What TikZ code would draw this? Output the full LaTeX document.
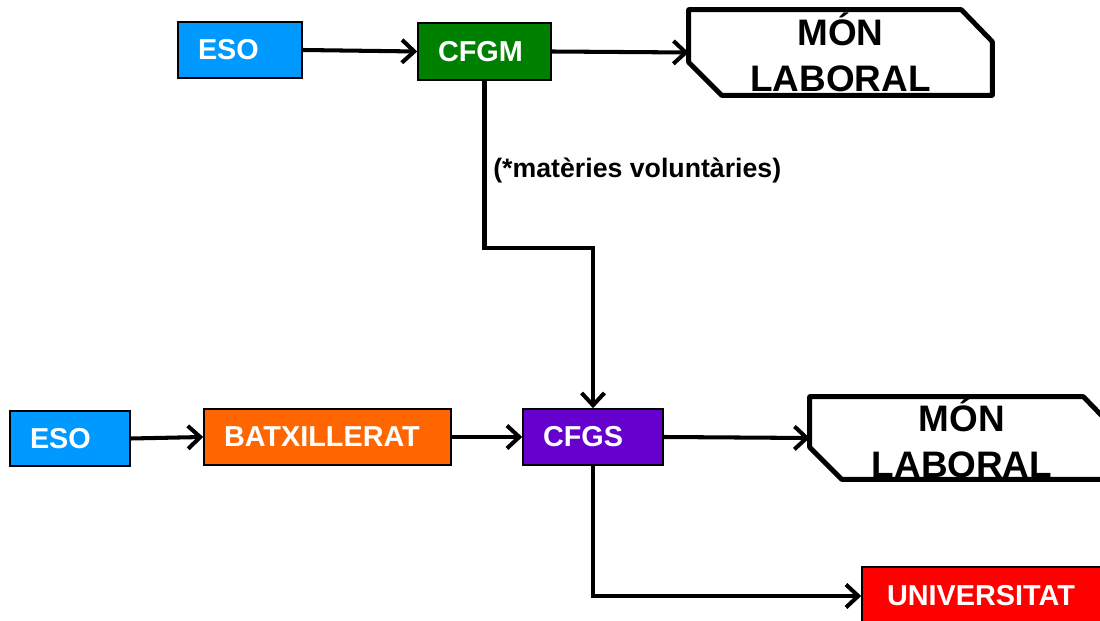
\documentclass[tikz,border=0pt]{standalone}
\usepackage{fontspec}
\setmainfont{Liberation Sans}
\usetikzlibrary{arrows.meta}

\definecolor{esoblue}{HTML}{0099FF}
\definecolor{cfgmgreen}{HTML}{008000}
\definecolor{batxorange}{HTML}{FF6600}
\definecolor{cfgspurple}{HTML}{6600CC}
\definecolor{univred}{HTML}{FF0000}

\begin{document}
\begin{tikzpicture}[x=0.02cm, y=-0.02cm,
  box/.style={draw=black, line width=0.9pt, text=white, inner xsep=0.4cm, inner ysep=0pt,
    align=left, minimum height=1.12cm, font=\bfseries\fontsize{16.4}{19}\selectfont},
  laboral/.style={inner sep=0pt, align=center, minimum width=6.06cm,
    font=\bfseries\fontsize{21}{26}\selectfont},
  rim/.style={line width=2.8pt, line join=round},
  link/.style={line width=2.3pt, -{Straight Barb[length=7pt, width=13pt, line width=2.3pt]}}]
% Set the page to the size of the picture
\clip (0,0) rectangle (1100,621);

% Top row: ESO, CFGM, mon laboral
\node[box, fill=esoblue, text width=1.68cm] (eso1) at (240,50) {ESO};
\node[box, fill=cfgmgreen, text width=1.86cm, minimum height=1.14cm] (cfgm) at (484.5,51.5) {CFGM};
\node[laboral, minimum height=1.7cm] (mon1) at (840.5,52.5) {MÓN\\LABORAL};
\draw[rim] (mon1.north west) -- ([xshift=-0.62cm]mon1.north east) -- ([yshift=-0.64cm]mon1.north east)
  -- (mon1.south east) -- ([xshift=0.66cm]mon1.south west) -- ([yshift=0.66cm]mon1.south west) -- cycle;

% Bottom row: ESO, BATXILLERAT, CFGS, mon laboral
\node[box, fill=esoblue, text width=1.6cm, minimum height=1.1cm] (eso2) at (70,438.5) {ESO};
\node[box, fill=batxorange, text width=4.14cm] (batx) at (327.5,437) {BATXILLERAT};
\node[box, fill=cfgspurple, text width=2.0cm] (cfgs) at (593,437) {CFGS};
\node[laboral, minimum width=6.08cm, minimum height=1.64cm] (mon2) at (962,438) {MÓN\\LABORAL};
\draw[rim] (mon2.north west) -- ([xshift=-0.62cm]mon2.north east) -- ([yshift=-0.64cm]mon2.north east)
  -- (mon2.south east) -- ([xshift=0.64cm]mon2.south west) -- ([yshift=0.64cm]mon2.south west) -- cycle;

% Universitat
\node[box, fill=univred, inner xsep=0.5cm, text width=4.0cm, minimum height=1.16cm] (univ) at (987,596) {UNIVERSITAT};

% Note on the way down
\node[anchor=west, inner sep=0pt, font=\bfseries\fontsize{15.2}{18}\selectfont] (nota) at (493,170) {(*matèries voluntàries)};

% Arrows
\coordinate (turn) at (593,248);
\draw[link] (eso1.east) -- (cfgm.west);
\draw[link] (cfgm.east) -- (mon1.west);
\draw[link] (cfgm.south) |- (turn) -- (cfgs.north);
\draw[link] (eso2.east) -- (batx.west);
\draw[link] (batx.east) -- (cfgs.west);
\draw[link] (cfgs.east) -- (mon2.west);
\draw[link] (cfgs.south) |- (univ.west);
\end{tikzpicture}
\end{document}
